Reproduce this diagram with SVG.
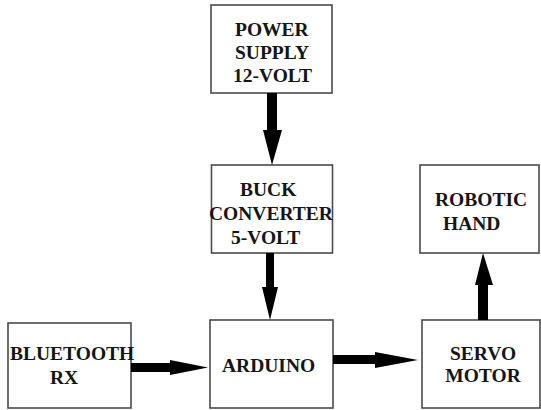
<svg xmlns="http://www.w3.org/2000/svg" width="541" height="410" viewBox="0 0 541 410">
<style>
.box{fill:#fff;stroke:#4a4a4a;stroke-width:1.6}
.t{font-family:"Liberation Serif","Times New Roman",serif;font-weight:bold;font-size:19.5px;fill:#151515}
.c{text-anchor:middle}
.ar{fill:#000}
</style>
<rect width="541" height="410" fill="#fff"/>
<g id="power">
<rect class="box" x="211" y="5" width="121" height="88"/>
<text class="t" x="235" y="36">POWER</text>
<text class="t" x="235" y="59">SUPPLY</text>
<text class="t" x="233" y="82">12-VOLT</text>
</g>
<g id="buck">
<rect class="box" x="211.5" y="165" width="121" height="88"/>
<text class="t" x="240" y="196">BUCK</text>
<text class="t" x="209" y="220">CONVERTER</text>
<text class="t" x="231" y="244">5-VOLT</text>
</g>
<g id="robotic">
<rect class="box" x="420" y="165" width="119" height="88"/>
<text class="t" x="435" y="206">ROBOTIC</text>
<text class="t" x="443" y="230">HAND</text>
</g>
<g id="bluetooth">
<rect class="box" x="8" y="323" width="123" height="85"/>
<text class="t" x="10" y="360">BLUETOOTH</text>
<text class="t" x="50" y="384">RX</text>
</g>
<g id="arduino">
<rect class="box" x="210" y="320" width="123" height="88"/>
<text class="t" x="222" y="372">ARDUINO</text>
</g>
<g id="servo">
<rect class="box" x="422" y="320" width="118" height="88"/>
<text class="t c" x="483" y="360">SERVO</text>
<text class="t c" x="483" y="382">MOTOR</text>
</g>
<g id="connectors">
<path class="ar" d="M267,93 H277 V130 H282 L272,165 L263,130 H267 Z"/>
<path class="ar" d="M266,253 H274 V287 H278 L270,320 L262,287 H266 Z"/>
<path class="ar" d="M478,320 H488 V285 H493 L483,253 L475,285 H478 Z"/>
<path class="ar" d="M131,363 H170 V360 L208,367.5 L170,375 V372 H131 Z"/>
<path class="ar" d="M333,355 H375 V352 L418,360 L375,368 V364 H333 Z"/>
</g>
</svg>
